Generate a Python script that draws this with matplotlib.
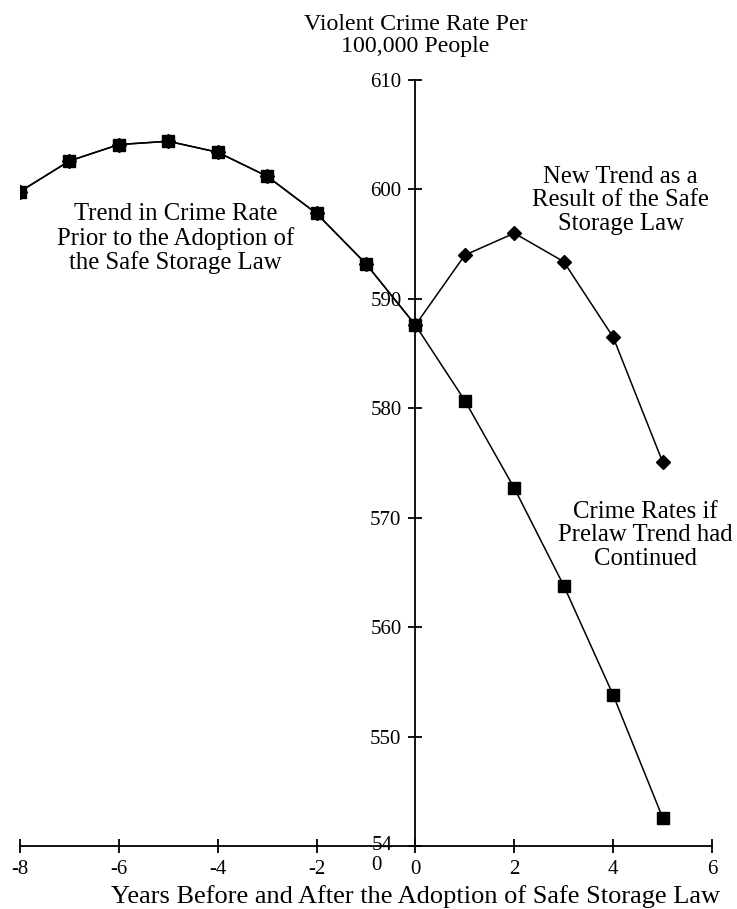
import matplotlib
matplotlib.use('Agg')
import matplotlib.pyplot as plt
import matplotlib.transforms as mtrans

plt.rcParams['font.family'] = ['Liberation Serif', 'DejaVu Serif']

# years relative to adoption of the law
years_all = [-8, -7, -6, -5, -4, -3, -2, -1, 0, 1, 2, 3, 4, 5]

# observed trend before the law and the new trend after it (diamonds)
new_trend = [599.8, 602.6, 604.1, 604.4, 603.4, 601.2, 597.8, 593.2, 587.6,
             594.0, 596.0, 593.4, 586.5, 575.1]

# prelaw trend carried on (squares)
prelaw_trend = [599.8, 602.6, 604.1, 604.4, 603.4, 601.2, 597.8, 593.2, 587.6,
                580.7, 572.7, 563.8, 553.8, 542.6]

x_ticks = [-8, -6, -4, -2, 0, 2, 4, 6]
y_ticks = [540, 550, 560, 570, 580, 590, 600, 610]
y_tick_labels = ['54\n0', '550', '560', '570', '580', '590', '600', '610']

tick_fs = 15
note_fs = 17.8

fig = plt.figure(figsize=(7.37, 9.09), dpi=100)
ax = fig.add_axes([0.0271, 0.0693, 0.939, 0.8427])

ax.plot(years_all, prelaw_trend, '-', color='black', lw=1.1,
        marker='s', ms=8, mfc='black', mec='black')
ax.plot(years_all, new_trend, '-', color='black', lw=1.1,
        marker='D', ms=6.8, mfc='black', mec='black')

ax.set_xlim(-8, 6)
ax.set_ylim(540, 610)

ax.spines['left'].set_position(('data', 0))
ax.spines['right'].set_visible(False)
ax.spines['top'].set_visible(False)
ax.spines['left'].set_linewidth(1.3)
ax.spines['bottom'].set_linewidth(1.3)

ax.set_xticks(x_ticks)
ax.set_xticklabels([str(t) for t in x_ticks])
ax.set_yticks(y_ticks)
ax.set_yticklabels(y_tick_labels)
ax.tick_params(direction='inout', length=10, width=1.3, labelsize=tick_fs)
ax.tick_params(axis='y', pad=5)
ax.tick_params(axis='x', pad=5)

# the 540 label wraps onto two lines in the original
for lab in ax.get_yticklabels():
    if '\n' in lab.get_text():
        lab.set_multialignment('left')
        lab.set_linespacing(1.05)
        lab.set_verticalalignment('top')
        lab.set_transform(lab.get_transform() +
                          mtrans.ScaledTranslation(-9 / 100, 10 / 100, fig.dpi_scale_trans))

ax.set_xlabel('Years Before and After the Adoption of Safe Storage Law', fontsize=19)
ax.xaxis.set_label_coords(8 / 14, -0.051)

ax.text(0, 1.058, 'Violent Crime Rate Per\n100,000 People', transform=ax.get_xaxis_transform(),
        ha='center', va='center', fontsize=17.2, linespacing=1.05)

ax.text(-4.86, 595.5, 'Trend in Crime Rate\nPrior to the Adoption of\nthe Safe Storage Law',
        ha='center', va='center', fontsize=note_fs, linespacing=1.1)
ax.text(4.15, 599.0, 'New Trend as a\nResult of the Safe\nStorage Law',
        ha='center', va='center', fontsize=note_fs, linespacing=1.1)
ax.text(4.66, 568.4, 'Crime Rates if\nPrelaw Trend had\nContinued',
        ha='center', va='center', fontsize=note_fs, linespacing=1.1)

plt.savefig('out.png', dpi=100)
